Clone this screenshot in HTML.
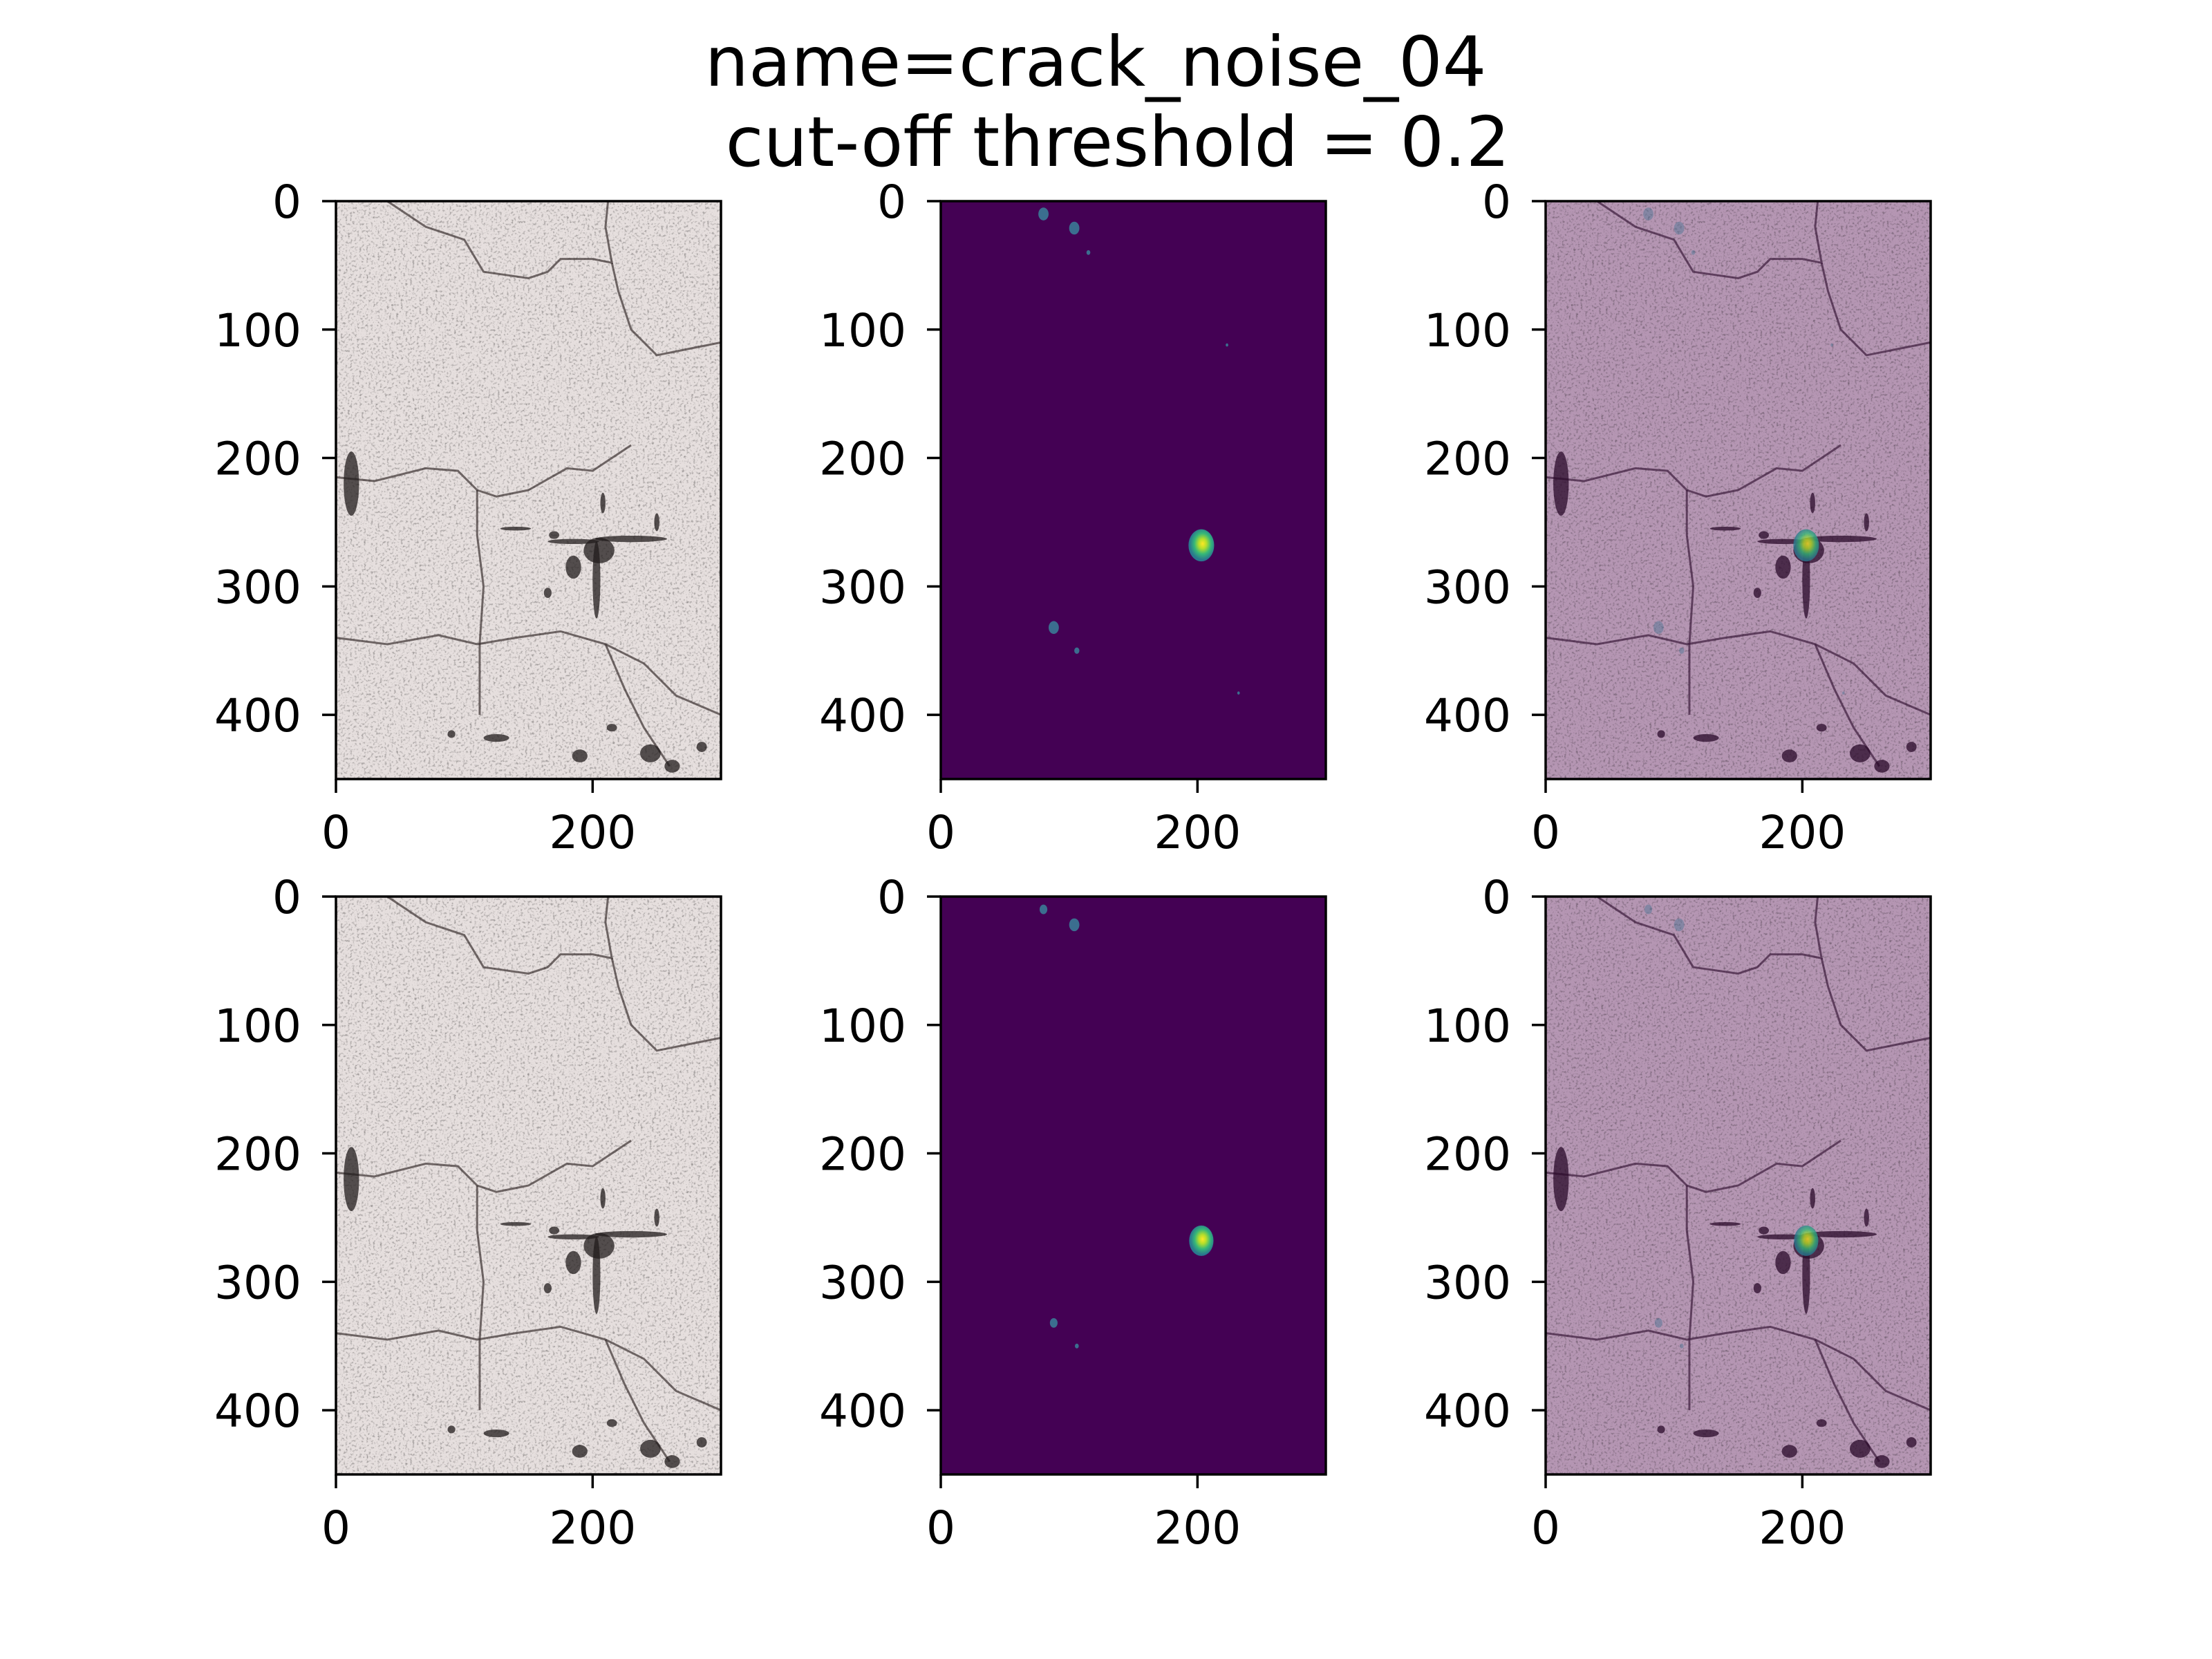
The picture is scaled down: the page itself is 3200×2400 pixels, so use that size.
<!DOCTYPE html>
<html><head><meta charset="utf-8">
<style>
html,body{margin:0;padding:0;background:#fff;}
svg{display:block;font-family:"DejaVu Sans","Liberation Sans",sans-serif;}
</style></head>
<body>
<svg id="fig" width="3200" height="2400" viewBox="0 0 3200 2400" xmlns="http://www.w3.org/2000/svg">
<defs>
<filter id="tex" x="0" y="0" width="100%" height="100%">
<feTurbulence type="fractalNoise" baseFrequency="0.3" numOctaves="3" seed="4" result="n"/>
<feColorMatrix type="matrix" values="0 0 0 0 0  0 0 0 0 0  0 0 0 0 0  -2.2 0 0 0 1.05" in="n" result="a"/>
<feComposite in="a" in2="SourceGraphic" operator="in"/>
</filter>
<radialGradient id="blobg" cx="0.55" cy="0.45">
<stop offset="0" stop-color="#fde725"/><stop offset="0.3" stop-color="#b5de2b"/><stop offset="0.65" stop-color="#35b779"/><stop offset="1" stop-color="#2a788e"/>
</radialGradient>
</defs>
<text x="1585" y="124" font-size="100" text-anchor="middle">name=crack_noise_04</text>
<text x="1617" y="240" font-size="100" text-anchor="middle">cut-off threshold = 0.2</text>
<g id="panels"></g>
</svg>
<script>
const yTicks = [0, 100, 200, 300, 400];
const xTicks = [0, 200];
const xMax = 300;
const yMax = 450;
// crack polylines (data coords)
const crack1 = [[40,0],[70,20],[100,30],[115,55],[150,60],[165,55],[175,45],[200,45],[215,48],[210,20],[212,0]];
const crack2 = [[0,215],[30,218],[70,208],[95,210],[110,225],[125,230],[150,225],[180,208],[200,210],[230,190]];
const crack3 = [[215,48],[220,70],[230,100],[250,120],[275,115],[300,110]];
const crack4 = [[0,340],[40,345],[80,338],[110,345],[140,340],[175,335],[210,345],[240,360],[265,385],[300,400]];
const crack5 = [[110,225],[110,260],[115,300],[112,345],[112,400]];
const crack6 = [[210,345],[225,380],[240,410],[260,440]];
// dark spots on concrete: [x, y, rx, ry]
const spots = [[205,272,12,10],[203,295,3,30],[185,265,20,2],[230,263,28,2.5],[185,285,6,9],[165,305,3,4],[140,255,12,1.5],[12,220,6,25],[190,432,6,5],[245,430,8,7],[262,440,6,5],[285,425,4,4],[125,418,10,3],[90,415,3,3],[215,410,4,3],[250,250,2,7],[208,235,2,8],[170,260,4,3]];
// mask blobs (row1 / row2): [x, y, r, level]
const maskBlobs1 = [[203,268,10,1],[80,10,4,0.4],[104,21,4,0.4],[115,40,1.5,0.4],[88,332,4,0.4],[106,350,2,0.4],[223,112,1,0.4],[232,383,1,0.4]];
const maskBlobs2 = [[203,268,9.5,1],[80,10,3,0.4],[104,22,4,0.4],[88,332,3,0.4],[106,350,1.5,0.4]];

const cols = [486, 1361, 2236];
const rows = [291, 1297];
const W = 557, H = 836;
const NS = 'http://www.w3.org/2000/svg';
const root = document.getElementById('panels');
function mk(tag, attrs, parent){const e=document.createElementNS(NS,tag);for(const k in attrs)e.setAttribute(k,attrs[k]);parent.appendChild(e);return e;}

function drawConcrete(g, sx, sy, overlay){
  const base = overlay ? '#b596b3' : '#e6dfde';
  mk('rect',{x:sx(0),y:sy(0),width:W,height:H,fill:base},g);
  mk('rect',{x:sx(0),y:sy(0),width:W,height:H,fill:overlay?'#3a1038':'#3a3030',filter:'url(#tex)',opacity:0.45},g);
  [crack1,crack2,crack3,crack4,crack5,crack6].forEach((c,i)=>{
    const p = mk('polyline',{points:c.map(q=>sx(q[0])+','+sy(q[1])).join(' '),fill:'none',stroke:overlay?'#3a1a3a':'#3a3030','stroke-width':3,opacity:0.7},g);
    
    
  });
  spots.forEach(s=>{
    const e = mk('ellipse',{cx:sx(s[0]),cy:sy(s[1]),rx:s[2]*W/xMax,ry:s[3]*H/yMax,fill:overlay?'#2a0a2a':'#221c1c',opacity:0.75},g);
    
    
  });
}
function drawMask(g, sx, sy, blobs, overlay){
  if(!overlay) mk('rect',{x:sx(0),y:sy(0),width:W,height:H,fill:'#440154'},g);
  blobs.forEach(b=>{
    const r = b[2]*W/xMax;
    const e = mk('ellipse',{cx:sx(b[0]),cy:sy(b[1]),rx:r,ry:r*1.25,fill:b[3]>0.5?'url(#blobg)':'#3b6e8f',opacity:overlay?(b[3]>0.5?0.8:0.4):1},g);
    
    
  });
}

rows.forEach((top,ri)=>{
  cols.forEach((left,ci)=>{
    const sx = v => left + v*W/xMax;
    const sy = v => top + v*H/yMax;
    const g = mk('g',{},root);
    
    
    const blobs = ri===0 ? maskBlobs1 : maskBlobs2;
    if(ci===0) drawConcrete(g,sx,sy,false);
    if(ci===1) drawMask(g,sx,sy,blobs,false);
    if(ci===2){drawConcrete(g,sx,sy,true);drawMask(g,sx,sy,blobs,true);}
    const fr = mk('rect',{x:left,y:top,width:W,height:H,fill:'none',stroke:'#000','stroke-width':3.5},g);
    
    
    yTicks.forEach(t=>{
      mk('line',{x1:left-20,x2:left,y1:sy(t),y2:sy(t),stroke:'#000','stroke-width':3.5},g);
      const tx = mk('text',{x:left-50,y:sy(t)+24,'font-size':66,'text-anchor':'end'},g);
      tx.textContent = t;
      
      
    });
    xTicks.forEach(t=>{
      mk('line',{x1:sx(t),x2:sx(t),y1:top+H,y2:top+H+20,stroke:'#000','stroke-width':3.5},g);
      const tx = mk('text',{x:sx(t),y:top+H+100,'font-size':66,'text-anchor':'middle'},g);
      tx.textContent = t;
      
      
    });
  });
});
</script>
</body></html>
